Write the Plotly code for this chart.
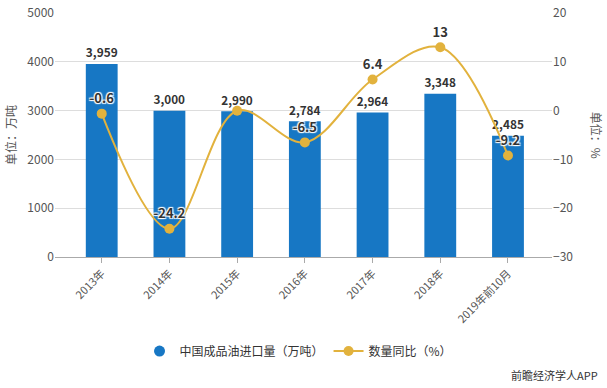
import plotly.graph_objects as go

categories = ["2013年", "2014年", "2015年", "2016年", "2017年", "2018年", "2019年前10月"]
import_volume = [3959, 3000, 2990, 2784, 2964, 3348, 2485]
yoy_growth = [-0.6, -24.2, 0.0, -6.5, 6.4, 13, -9.2]
yoy_labels = ["-0.6", "-24.2", "", "-6.5", "6.4", "13", "-9.2"]
left_ticks = [0, 1000, 2000, 3000, 4000, 5000]
right_ticks = [-30, -20, -10, 0, 10, 20]

BLUE = "#1777C4"
GOLD = "#E2B23D"
FONT = "Noto Sans CJK SC"

fig = go.Figure()

fig.add_trace(go.Bar(
    x=categories, y=import_volume, name="中国成品油进口量（万吨）",
    marker=dict(color=BLUE, line=dict(width=0)), width=0.47,
    text=[f"{v:,}" for v in import_volume], textposition="outside",
    textfont=dict(family=FONT, size=13, color="#333333", weight="bold"),
    cliponaxis=False, showlegend=False,
))

# legend proxy with circle icon for the bar series
fig.add_trace(go.Scatter(
    x=[None], y=[None], mode="markers", name="中国成品油进口量（万吨）",
    marker=dict(color=BLUE, size=11, symbol="circle"),
))

fig.add_trace(go.Scatter(
    x=categories, y=yoy_growth, name="数量同比（%）", yaxis="y2",
    mode="lines+markers+text",
    line=dict(color=GOLD, width=2, shape="spline", smoothing=1.0),
    marker=dict(color=GOLD, size=10),
    text=yoy_labels, textposition="top center",
    textfont=dict(family=FONT, size=13, color="#333333", weight="bold",
                  shadow="1px 1px 1px #fff, -1px -1px 1px #fff, 1px -1px 1px #fff, -1px 1px 1px #fff"),
    cliponaxis=False,
))

fig.update_layout(
    width=607, height=388,
    margin=dict(l=55, r=55, t=13, b=131, autoexpand=False),
    paper_bgcolor="white", plot_bgcolor="white",
    font=dict(family=FONT, size=12, color="#666666"),
    xaxis=dict(
        type="category", range=[-0.69, 6.65], automargin=False,
        tickangle=-45, tickfont=dict(size=11, color="#555555"),
        showline=True, linecolor="#aaaaaa", linewidth=1,
        ticks="outside", ticklen=5, tickcolor="#aaaaaa",
        showgrid=False, zeroline=False,
    ),
    yaxis=dict(
        range=[0, 5004], tickvals=left_ticks, ticktext=[str(v) for v in left_ticks],
        showgrid=True, gridcolor="#dddddd", gridwidth=1, zeroline=False,
        tickfont=dict(size=12, color="#555555"), ticks="", showline=False,
        automargin=False, ticklabeloverflow="allow",
        title=dict(text="单位：万吨", font=dict(size=12, color="#555555"), standoff=8),
    ),
    yaxis2=dict(
        overlaying="y", side="right", range=[-30, 20.04], tickvals=right_ticks,
        showgrid=False, zeroline=False, showline=False, ticks="",
        tickfont=dict(size=12, color="#555555"), automargin=False,
        ticklabeloverflow="allow",
    ),
    legend=dict(
        orientation="h", x=0.49, xanchor="center", y=-0.326, yanchor="top",
        font=dict(size=12, color="#333333"),
        traceorder="normal",
    ),
    annotations=[
        dict(text="单位：%", xref="paper", yref="paper", x=1.07, y=0.5,
             xanchor="left", yanchor="middle", textangle=90, showarrow=False,
             font=dict(size=12, color="#555555")),
        dict(text="前瞻经济学人APP", xref="paper", yref="paper", x=1.097, y=-0.484,
             xanchor="right", yanchor="middle", showarrow=False,
             font=dict(size=11, color="#333333")),
    ],
)

fig.write_html("out.html", config={"displayModeBar": False},
               post_script="document.body.style.margin='0';")
